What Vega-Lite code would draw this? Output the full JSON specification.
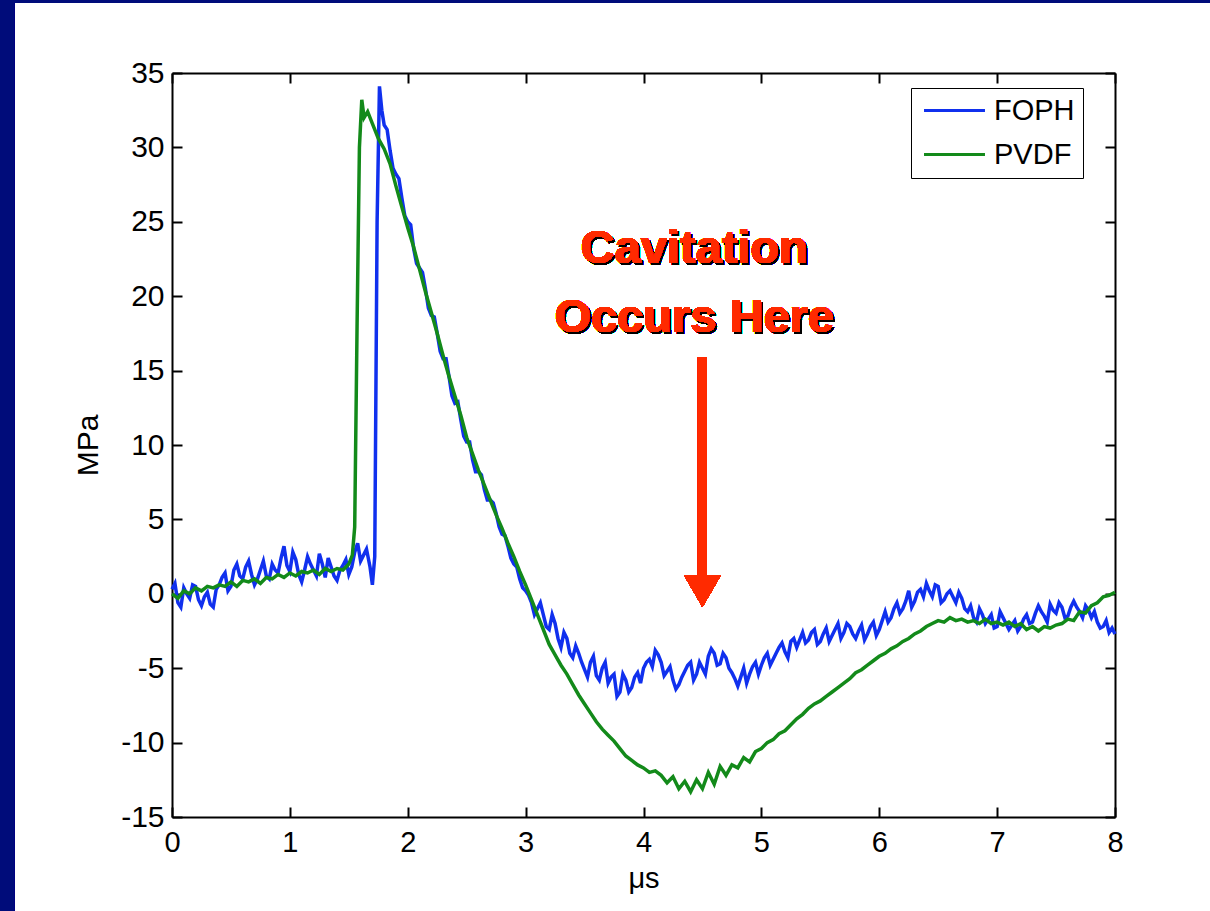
{
  "$schema": "https://vega.github.io/schema/vega-lite/v6.json",
  "width": 943,
  "height": 744,
  "autosize": {"type": "none"},
  "padding": {"left": 172, "top": 73, "right": 95, "bottom": 94},
  "background": "#ffffff",
  "config": {
    "view": {"stroke": null},
    "font": "Liberation Sans",
    "axis": {"zindex": 1}
  },
  "data": {"values": [
    {"s":"FOPH","t":0.00,"v":0.3},{"s":"FOPH","t":0.05,"v":-0.6},{"s":"FOPH","t":0.10,"v":0.4},{"s":"FOPH","t":0.15,"v":-0.3},{"s":"FOPH","t":0.20,"v":0.5},{"s":"FOPH","t":0.25,"v":-0.8},{"s":"FOPH","t":0.30,"v":0.1},{"s":"FOPH","t":0.35,"v":-0.9},{"s":"FOPH","t":0.40,"v":0.6},{"s":"FOPH","t":0.45,"v":1.4},{"s":"FOPH","t":0.50,"v":0.5},{"s":"FOPH","t":0.55,"v":2.0},{"s":"FOPH","t":0.60,"v":1.0},{"s":"FOPH","t":0.65,"v":2.2},{"s":"FOPH","t":0.70,"v":0.6},{"s":"FOPH","t":0.75,"v":1.6},{"s":"FOPH","t":0.80,"v":1.2},{"s":"FOPH","t":0.85,"v":2.0},{"s":"FOPH","t":0.90,"v":1.4},{"s":"FOPH","t":0.95,"v":3.2},{"s":"FOPH","t":1.00,"v":1.5},{"s":"FOPH","t":1.05,"v":2.3},{"s":"FOPH","t":1.10,"v":0.8},{"s":"FOPH","t":1.15,"v":2.5},{"s":"FOPH","t":1.20,"v":1.6},{"s":"FOPH","t":1.25,"v":2.7},{"s":"FOPH","t":1.30,"v":1.1},{"s":"FOPH","t":1.35,"v":1.8},{"s":"FOPH","t":1.40,"v":0.9},{"s":"FOPH","t":1.45,"v":1.9},{"s":"FOPH","t":1.50,"v":1.3},{"s":"FOPH","t":1.55,"v":2.8},{"s":"FOPH","t":1.60,"v":2.2},{"s":"FOPH","t":1.65,"v":3.0},{"s":"FOPH","t":1.68,"v":1.8},{"s":"FOPH","t":1.70,"v":0.6},{"s":"FOPH","t":1.72,"v":2.5},{"s":"FOPH","t":1.74,"v":25.0},{"s":"FOPH","t":1.76,"v":34.1},{"s":"FOPH","t":1.78,"v":32.5},{"s":"FOPH","t":1.80,"v":31.5},{"s":"FOPH","t":1.85,"v":29.8},{"s":"FOPH","t":1.90,"v":28.2},{"s":"FOPH","t":1.95,"v":26.6},{"s":"FOPH","t":2.00,"v":25.0},{"s":"FOPH","t":2.05,"v":23.2},{"s":"FOPH","t":2.10,"v":21.9},{"s":"FOPH","t":2.15,"v":20.5},{"s":"FOPH","t":2.20,"v":18.7},{"s":"FOPH","t":2.25,"v":17.5},{"s":"FOPH","t":2.30,"v":15.8},{"s":"FOPH","t":2.35,"v":14.6},{"s":"FOPH","t":2.40,"v":12.8},{"s":"FOPH","t":2.45,"v":11.7},{"s":"FOPH","t":2.50,"v":10.2},{"s":"FOPH","t":2.55,"v":9.0},{"s":"FOPH","t":2.60,"v":8.2},{"s":"FOPH","t":2.65,"v":7.0},{"s":"FOPH","t":2.70,"v":6.3},{"s":"FOPH","t":2.75,"v":5.4},{"s":"FOPH","t":2.80,"v":4.0},{"s":"FOPH","t":2.85,"v":3.2},{"s":"FOPH","t":2.90,"v":2.0},{"s":"FOPH","t":2.95,"v":1.0},{"s":"FOPH","t":3.00,"v":0.2},{"s":"FOPH","t":3.05,"v":-0.6},{"s":"FOPH","t":3.10,"v":-1.0},{"s":"FOPH","t":3.15,"v":-1.4},{"s":"FOPH","t":3.20,"v":-2.4},{"s":"FOPH","t":3.25,"v":-2.0},{"s":"FOPH","t":3.30,"v":-3.6},{"s":"FOPH","t":3.35,"v":-3.0},{"s":"FOPH","t":3.40,"v":-4.3},{"s":"FOPH","t":3.45,"v":-4.0},{"s":"FOPH","t":3.50,"v":-5.1},{"s":"FOPH","t":3.55,"v":-4.6},{"s":"FOPH","t":3.60,"v":-5.5},{"s":"FOPH","t":3.65,"v":-5.0},{"s":"FOPH","t":3.70,"v":-6.0},{"s":"FOPH","t":3.75,"v":-5.4},{"s":"FOPH","t":3.80,"v":-6.6},{"s":"FOPH","t":3.85,"v":-5.8},{"s":"FOPH","t":3.90,"v":-6.3},{"s":"FOPH","t":3.95,"v":-5.3},{"s":"FOPH","t":4.00,"v":-5.0},{"s":"FOPH","t":4.05,"v":-4.4},{"s":"FOPH","t":4.10,"v":-3.8},{"s":"FOPH","t":4.15,"v":-4.6},{"s":"FOPH","t":4.20,"v":-5.2},{"s":"FOPH","t":4.25,"v":-5.8},{"s":"FOPH","t":4.30,"v":-6.1},{"s":"FOPH","t":4.35,"v":-5.2},{"s":"FOPH","t":4.40,"v":-4.6},{"s":"FOPH","t":4.45,"v":-5.4},{"s":"FOPH","t":4.50,"v":-5.0},{"s":"FOPH","t":4.55,"v":-4.2},{"s":"FOPH","t":4.60,"v":-4.0},{"s":"FOPH","t":4.65,"v":-4.7},{"s":"FOPH","t":4.70,"v":-4.3},{"s":"FOPH","t":4.75,"v":-5.3},{"s":"FOPH","t":4.80,"v":-6.2},{"s":"FOPH","t":4.85,"v":-5.0},{"s":"FOPH","t":4.90,"v":-5.4},{"s":"FOPH","t":4.95,"v":-4.6},{"s":"FOPH","t":5.00,"v":-4.8},{"s":"FOPH","t":5.05,"v":-4.0},{"s":"FOPH","t":5.10,"v":-4.4},{"s":"FOPH","t":5.15,"v":-3.6},{"s":"FOPH","t":5.20,"v":-3.9},{"s":"FOPH","t":5.25,"v":-3.2},{"s":"FOPH","t":5.30,"v":-3.6},{"s":"FOPH","t":5.35,"v":-2.6},{"s":"FOPH","t":5.40,"v":-3.1},{"s":"FOPH","t":5.45,"v":-2.4},{"s":"FOPH","t":5.50,"v":-3.2},{"s":"FOPH","t":5.55,"v":-2.3},{"s":"FOPH","t":5.60,"v":-2.8},{"s":"FOPH","t":5.65,"v":-2.0},{"s":"FOPH","t":5.70,"v":-2.6},{"s":"FOPH","t":5.75,"v":-2.2},{"s":"FOPH","t":5.80,"v":-3.0},{"s":"FOPH","t":5.85,"v":-2.1},{"s":"FOPH","t":5.90,"v":-2.7},{"s":"FOPH","t":5.95,"v":-1.9},{"s":"FOPH","t":6.00,"v":-2.4},{"s":"FOPH","t":6.05,"v":-1.2},{"s":"FOPH","t":6.10,"v":-1.6},{"s":"FOPH","t":6.15,"v":-0.6},{"s":"FOPH","t":6.20,"v":-1.0},{"s":"FOPH","t":6.25,"v":0.2},{"s":"FOPH","t":6.30,"v":-0.5},{"s":"FOPH","t":6.35,"v":0.3},{"s":"FOPH","t":6.40,"v":0.7},{"s":"FOPH","t":6.45,"v":-0.2},{"s":"FOPH","t":6.50,"v":0.5},{"s":"FOPH","t":6.55,"v":-0.4},{"s":"FOPH","t":6.60,"v":0.2},{"s":"FOPH","t":6.65,"v":-0.6},{"s":"FOPH","t":6.70,"v":-0.3},{"s":"FOPH","t":6.75,"v":-1.2},{"s":"FOPH","t":6.80,"v":-1.6},{"s":"FOPH","t":6.85,"v":-1.0},{"s":"FOPH","t":6.90,"v":-2.0},{"s":"FOPH","t":6.95,"v":-1.4},{"s":"FOPH","t":7.00,"v":-2.2},{"s":"FOPH","t":7.05,"v":-1.6},{"s":"FOPH","t":7.10,"v":-2.4},{"s":"FOPH","t":7.15,"v":-1.8},{"s":"FOPH","t":7.20,"v":-2.2},{"s":"FOPH","t":7.25,"v":-1.4},{"s":"FOPH","t":7.30,"v":-1.9},{"s":"FOPH","t":7.35,"v":-0.8},{"s":"FOPH","t":7.40,"v":-1.5},{"s":"FOPH","t":7.45,"v":-0.7},{"s":"FOPH","t":7.50,"v":-1.3},{"s":"FOPH","t":7.55,"v":-0.9},{"s":"FOPH","t":7.60,"v":-1.5},{"s":"FOPH","t":7.65,"v":-0.5},{"s":"FOPH","t":7.70,"v":-1.2},{"s":"FOPH","t":7.75,"v":-0.8},{"s":"FOPH","t":7.80,"v":-1.6},{"s":"FOPH","t":7.85,"v":-1.9},{"s":"FOPH","t":7.90,"v":-2.2},{"s":"FOPH","t":7.95,"v":-2.6},{"s":"FOPH","t":8.00,"v":-2.7},
    {"s":"FOPH","t":0.025,"v":0.7},{"s":"FOPH","t":0.075,"v":-0.9},{"s":"FOPH","t":0.125,"v":0.0},{"s":"FOPH","t":0.175,"v":0.6},{"s":"FOPH","t":0.225,"v":-0.4},{"s":"FOPH","t":0.275,"v":-0.2},{"s":"FOPH","t":0.325,"v":-0.7},{"s":"FOPH","t":0.375,"v":0.3},{"s":"FOPH","t":0.425,"v":1.1},{"s":"FOPH","t":0.475,"v":0.2},{"s":"FOPH","t":0.525,"v":1.6},{"s":"FOPH","t":0.575,"v":1.2},{"s":"FOPH","t":0.625,"v":1.8},{"s":"FOPH","t":0.675,"v":1.3},{"s":"FOPH","t":0.725,"v":1.0},{"s":"FOPH","t":0.775,"v":2.2},{"s":"FOPH","t":0.825,"v":1.0},{"s":"FOPH","t":0.875,"v":1.6},{"s":"FOPH","t":0.925,"v":2.4},{"s":"FOPH","t":0.975,"v":1.9},{"s":"FOPH","t":1.025,"v":2.8},{"s":"FOPH","t":1.075,"v":1.3},{"s":"FOPH","t":1.125,"v":1.6},{"s":"FOPH","t":1.175,"v":2.0},{"s":"FOPH","t":1.225,"v":1.2},{"s":"FOPH","t":1.275,"v":2.0},{"s":"FOPH","t":1.325,"v":2.4},{"s":"FOPH","t":1.375,"v":1.2},{"s":"FOPH","t":1.425,"v":1.6},{"s":"FOPH","t":1.475,"v":2.3},{"s":"FOPH","t":1.525,"v":1.8},{"s":"FOPH","t":1.575,"v":3.4},{"s":"FOPH","t":1.625,"v":2.6},
    {"s":"FOPH","t":1.825,"v":31.2},{"s":"FOPH","t":1.875,"v":28.6},{"s":"FOPH","t":1.925,"v":27.9},{"s":"FOPH","t":1.975,"v":25.4},{"s":"FOPH","t":2.025,"v":24.8},{"s":"FOPH","t":2.075,"v":22.2},{"s":"FOPH","t":2.125,"v":21.6},{"s":"FOPH","t":2.175,"v":19.2},{"s":"FOPH","t":2.225,"v":18.6},{"s":"FOPH","t":2.275,"v":16.3},{"s":"FOPH","t":2.325,"v":15.8},{"s":"FOPH","t":2.375,"v":13.3},{"s":"FOPH","t":2.425,"v":12.9},{"s":"FOPH","t":2.475,"v":10.6},{"s":"FOPH","t":2.525,"v":10.2},{"s":"FOPH","t":2.575,"v":8.2},{"s":"FOPH","t":2.625,"v":8.0},{"s":"FOPH","t":2.675,"v":6.3},{"s":"FOPH","t":2.725,"v":6.1},{"s":"FOPH","t":2.775,"v":4.5},{"s":"FOPH","t":2.825,"v":3.9},{"s":"FOPH","t":2.875,"v":2.4},{"s":"FOPH","t":2.925,"v":1.8},{"s":"FOPH","t":2.975,"v":0.4},
    {"s":"FOPH","t":3.025,"v":-0.1},{"s":"FOPH","t":3.075,"v":-1.4},{"s":"FOPH","t":3.125,"v":-0.6},{"s":"FOPH","t":3.175,"v":-2.2},{"s":"FOPH","t":3.225,"v":-1.4},{"s":"FOPH","t":3.275,"v":-3.0},{"s":"FOPH","t":3.325,"v":-2.6},{"s":"FOPH","t":3.375,"v":-4.0},{"s":"FOPH","t":3.425,"v":-3.5},{"s":"FOPH","t":3.475,"v":-4.6},{"s":"FOPH","t":3.525,"v":-5.6},{"s":"FOPH","t":3.575,"v":-4.2},{"s":"FOPH","t":3.625,"v":-5.8},{"s":"FOPH","t":3.675,"v":-4.6},{"s":"FOPH","t":3.725,"v":-5.6},{"s":"FOPH","t":3.775,"v":-6.9},{"s":"FOPH","t":3.825,"v":-5.4},{"s":"FOPH","t":3.875,"v":-6.6},{"s":"FOPH","t":3.925,"v":-5.6},{"s":"FOPH","t":3.975,"v":-6.0},{"s":"FOPH","t":4.025,"v":-4.6},{"s":"FOPH","t":4.075,"v":-4.9},{"s":"FOPH","t":4.125,"v":-4.1},{"s":"FOPH","t":4.175,"v":-5.5},{"s":"FOPH","t":4.225,"v":-4.9},{"s":"FOPH","t":4.275,"v":-6.4},{"s":"FOPH","t":4.325,"v":-5.6},{"s":"FOPH","t":4.375,"v":-4.8},{"s":"FOPH","t":4.425,"v":-5.8},{"s":"FOPH","t":4.475,"v":-4.6},{"s":"FOPH","t":4.525,"v":-5.4},{"s":"FOPH","t":4.575,"v":-3.7},{"s":"FOPH","t":4.625,"v":-4.8},{"s":"FOPH","t":4.675,"v":-4.0},{"s":"FOPH","t":4.725,"v":-5.0},{"s":"FOPH","t":4.775,"v":-5.7},{"s":"FOPH","t":4.825,"v":-5.6},{"s":"FOPH","t":4.875,"v":-6.0},{"s":"FOPH","t":4.925,"v":-4.9},{"s":"FOPH","t":4.975,"v":-5.4},{"s":"FOPH","t":5.025,"v":-4.3},{"s":"FOPH","t":5.075,"v":-4.8},{"s":"FOPH","t":5.125,"v":-4.0},{"s":"FOPH","t":5.175,"v":-3.3},{"s":"FOPH","t":5.225,"v":-4.3},{"s":"FOPH","t":5.275,"v":-3.0},{"s":"FOPH","t":5.325,"v":-3.1},{"s":"FOPH","t":5.375,"v":-3.3},{"s":"FOPH","t":5.425,"v":-2.6},{"s":"FOPH","t":5.475,"v":-3.4},{"s":"FOPH","t":5.525,"v":-2.7},{"s":"FOPH","t":5.575,"v":-3.2},{"s":"FOPH","t":5.625,"v":-2.4},{"s":"FOPH","t":5.675,"v":-3.0},{"s":"FOPH","t":5.725,"v":-2.0},{"s":"FOPH","t":5.775,"v":-2.7},{"s":"FOPH","t":5.825,"v":-2.5},{"s":"FOPH","t":5.875,"v":-3.1},{"s":"FOPH","t":5.925,"v":-2.2},{"s":"FOPH","t":5.975,"v":-2.8},{"s":"FOPH","t":6.025,"v":-1.8},{"s":"FOPH","t":6.075,"v":-1.9},{"s":"FOPH","t":6.125,"v":-1.0},{"s":"FOPH","t":6.175,"v":-1.3},{"s":"FOPH","t":6.225,"v":-0.5},{"s":"FOPH","t":6.275,"v":-0.9},{"s":"FOPH","t":6.325,"v":0.1},{"s":"FOPH","t":6.375,"v":-0.2},{"s":"FOPH","t":6.425,"v":0.2},{"s":"FOPH","t":6.475,"v":0.6},{"s":"FOPH","t":6.525,"v":-0.6},{"s":"FOPH","t":6.575,"v":0.0},{"s":"FOPH","t":6.625,"v":-0.2},{"s":"FOPH","t":6.675,"v":0.1},{"s":"FOPH","t":6.725,"v":-1.0},{"s":"FOPH","t":6.775,"v":-0.8},{"s":"FOPH","t":6.825,"v":-1.9},{"s":"FOPH","t":6.875,"v":-1.4},{"s":"FOPH","t":6.925,"v":-1.7},{"s":"FOPH","t":6.975,"v":-2.3},{"s":"FOPH","t":7.025,"v":-1.2},{"s":"FOPH","t":7.075,"v":-2.0},{"s":"FOPH","t":7.125,"v":-2.1},{"s":"FOPH","t":7.175,"v":-2.5},{"s":"FOPH","t":7.225,"v":-1.7},{"s":"FOPH","t":7.275,"v":-2.0},{"s":"FOPH","t":7.325,"v":-1.3},{"s":"FOPH","t":7.375,"v":-1.2},{"s":"FOPH","t":7.425,"v":-1.9},{"s":"FOPH","t":7.475,"v":-1.1},{"s":"FOPH","t":7.525,"v":-0.6},{"s":"FOPH","t":7.575,"v":-1.6},{"s":"FOPH","t":7.625,"v":-0.9},{"s":"FOPH","t":7.675,"v":-0.9},{"s":"FOPH","t":7.725,"v":-1.6},{"s":"FOPH","t":7.775,"v":-1.1},{"s":"FOPH","t":7.825,"v":-1.2},{"s":"FOPH","t":7.875,"v":-2.3},{"s":"FOPH","t":7.925,"v":-1.8},{"s":"FOPH","t":7.975,"v":-2.3},
    {"s":"PVDF","t":0.00,"v":0.0},{"s":"PVDF","t":0.05,"v":-0.3},{"s":"PVDF","t":0.10,"v":0.2},{"s":"PVDF","t":0.15,"v":0.0},{"s":"PVDF","t":0.20,"v":0.4},{"s":"PVDF","t":0.25,"v":0.2},{"s":"PVDF","t":0.30,"v":0.5},{"s":"PVDF","t":0.35,"v":0.4},{"s":"PVDF","t":0.40,"v":0.6},{"s":"PVDF","t":0.45,"v":0.5},{"s":"PVDF","t":0.50,"v":0.8},{"s":"PVDF","t":0.55,"v":0.5},{"s":"PVDF","t":0.60,"v":0.9},{"s":"PVDF","t":0.65,"v":0.8},{"s":"PVDF","t":0.70,"v":1.0},{"s":"PVDF","t":0.75,"v":0.7},{"s":"PVDF","t":0.80,"v":1.1},{"s":"PVDF","t":0.85,"v":1.0},{"s":"PVDF","t":0.90,"v":1.3},{"s":"PVDF","t":0.95,"v":1.1},{"s":"PVDF","t":1.00,"v":1.4},{"s":"PVDF","t":1.05,"v":1.2},{"s":"PVDF","t":1.10,"v":1.5},{"s":"PVDF","t":1.15,"v":1.4},{"s":"PVDF","t":1.20,"v":1.6},{"s":"PVDF","t":1.25,"v":1.3},{"s":"PVDF","t":1.30,"v":1.7},{"s":"PVDF","t":1.35,"v":1.5},{"s":"PVDF","t":1.40,"v":1.7},{"s":"PVDF","t":1.45,"v":1.6},{"s":"PVDF","t":1.50,"v":2.0},{"s":"PVDF","t":1.53,"v":2.6},{"s":"PVDF","t":1.55,"v":4.5},{"s":"PVDF","t":1.57,"v":18.0},{"s":"PVDF","t":1.59,"v":30.0},{"s":"PVDF","t":1.61,"v":33.2},{"s":"PVDF","t":1.63,"v":32.0},{"s":"PVDF","t":1.66,"v":32.4},{"s":"PVDF","t":1.70,"v":31.6},{"s":"PVDF","t":1.75,"v":30.6},{"s":"PVDF","t":1.80,"v":29.9},{"s":"PVDF","t":1.85,"v":28.9},{"s":"PVDF","t":1.90,"v":27.4},{"s":"PVDF","t":1.95,"v":26.0},{"s":"PVDF","t":2.00,"v":24.6},{"s":"PVDF","t":2.05,"v":23.3},{"s":"PVDF","t":2.10,"v":21.8},{"s":"PVDF","t":2.15,"v":20.3},{"s":"PVDF","t":2.20,"v":18.9},{"s":"PVDF","t":2.25,"v":17.5},{"s":"PVDF","t":2.30,"v":16.0},{"s":"PVDF","t":2.35,"v":14.6},{"s":"PVDF","t":2.40,"v":13.3},{"s":"PVDF","t":2.45,"v":12.0},{"s":"PVDF","t":2.50,"v":10.5},{"s":"PVDF","t":2.55,"v":9.4},{"s":"PVDF","t":2.60,"v":8.3},{"s":"PVDF","t":2.65,"v":7.3},{"s":"PVDF","t":2.70,"v":6.3},{"s":"PVDF","t":2.75,"v":5.3},{"s":"PVDF","t":2.80,"v":4.4},{"s":"PVDF","t":2.85,"v":3.4},{"s":"PVDF","t":2.90,"v":2.5},{"s":"PVDF","t":2.95,"v":1.5},{"s":"PVDF","t":3.00,"v":0.6},{"s":"PVDF","t":3.05,"v":-0.4},{"s":"PVDF","t":3.10,"v":-1.4},{"s":"PVDF","t":3.15,"v":-2.4},{"s":"PVDF","t":3.20,"v":-3.4},{"s":"PVDF","t":3.25,"v":-4.1},{"s":"PVDF","t":3.30,"v":-4.8},{"s":"PVDF","t":3.35,"v":-5.4},{"s":"PVDF","t":3.40,"v":-6.1},{"s":"PVDF","t":3.45,"v":-6.8},{"s":"PVDF","t":3.50,"v":-7.4},{"s":"PVDF","t":3.55,"v":-8.0},{"s":"PVDF","t":3.60,"v":-8.6},{"s":"PVDF","t":3.65,"v":-9.1},{"s":"PVDF","t":3.70,"v":-9.5},{"s":"PVDF","t":3.75,"v":-9.9},{"s":"PVDF","t":3.80,"v":-10.4},{"s":"PVDF","t":3.85,"v":-10.9},{"s":"PVDF","t":3.90,"v":-11.2},{"s":"PVDF","t":3.95,"v":-11.5},{"s":"PVDF","t":4.00,"v":-11.7},{"s":"PVDF","t":4.05,"v":-12.0},{"s":"PVDF","t":4.10,"v":-11.9},{"s":"PVDF","t":4.15,"v":-12.2},{"s":"PVDF","t":4.20,"v":-12.7},{"s":"PVDF","t":4.25,"v":-12.3},{"s":"PVDF","t":4.30,"v":-13.1},{"s":"PVDF","t":4.35,"v":-12.6},{"s":"PVDF","t":4.40,"v":-13.3},{"s":"PVDF","t":4.45,"v":-12.5},{"s":"PVDF","t":4.50,"v":-13.1},{"s":"PVDF","t":4.55,"v":-12.0},{"s":"PVDF","t":4.60,"v":-12.8},{"s":"PVDF","t":4.65,"v":-11.6},{"s":"PVDF","t":4.70,"v":-12.2},{"s":"PVDF","t":4.75,"v":-11.5},{"s":"PVDF","t":4.80,"v":-11.7},{"s":"PVDF","t":4.85,"v":-11.0},{"s":"PVDF","t":4.90,"v":-11.3},{"s":"PVDF","t":4.95,"v":-10.6},{"s":"PVDF","t":5.00,"v":-10.4},{"s":"PVDF","t":5.05,"v":-10.0},{"s":"PVDF","t":5.10,"v":-9.8},{"s":"PVDF","t":5.15,"v":-9.4},{"s":"PVDF","t":5.20,"v":-9.2},{"s":"PVDF","t":5.25,"v":-8.8},{"s":"PVDF","t":5.30,"v":-8.4},{"s":"PVDF","t":5.35,"v":-8.1},{"s":"PVDF","t":5.40,"v":-7.7},{"s":"PVDF","t":5.45,"v":-7.4},{"s":"PVDF","t":5.50,"v":-7.2},{"s":"PVDF","t":5.55,"v":-6.9},{"s":"PVDF","t":5.60,"v":-6.6},{"s":"PVDF","t":5.65,"v":-6.3},{"s":"PVDF","t":5.70,"v":-6.0},{"s":"PVDF","t":5.75,"v":-5.7},{"s":"PVDF","t":5.80,"v":-5.3},{"s":"PVDF","t":5.85,"v":-5.1},{"s":"PVDF","t":5.90,"v":-4.8},{"s":"PVDF","t":5.95,"v":-4.5},{"s":"PVDF","t":6.00,"v":-4.2},{"s":"PVDF","t":6.05,"v":-4.0},{"s":"PVDF","t":6.10,"v":-3.7},{"s":"PVDF","t":6.15,"v":-3.5},{"s":"PVDF","t":6.20,"v":-3.2},{"s":"PVDF","t":6.25,"v":-3.0},{"s":"PVDF","t":6.30,"v":-2.7},{"s":"PVDF","t":6.35,"v":-2.5},{"s":"PVDF","t":6.40,"v":-2.2},{"s":"PVDF","t":6.45,"v":-2.0},{"s":"PVDF","t":6.50,"v":-1.8},{"s":"PVDF","t":6.55,"v":-1.9},{"s":"PVDF","t":6.60,"v":-1.6},{"s":"PVDF","t":6.65,"v":-1.8},{"s":"PVDF","t":6.70,"v":-1.7},{"s":"PVDF","t":6.75,"v":-1.9},{"s":"PVDF","t":6.80,"v":-1.8},{"s":"PVDF","t":6.85,"v":-2.0},{"s":"PVDF","t":6.90,"v":-1.7},{"s":"PVDF","t":6.95,"v":-2.0},{"s":"PVDF","t":7.00,"v":-1.9},{"s":"PVDF","t":7.05,"v":-2.1},{"s":"PVDF","t":7.10,"v":-1.9},{"s":"PVDF","t":7.15,"v":-2.2},{"s":"PVDF","t":7.20,"v":-2.0},{"s":"PVDF","t":7.25,"v":-2.4},{"s":"PVDF","t":7.30,"v":-2.2},{"s":"PVDF","t":7.35,"v":-2.5},{"s":"PVDF","t":7.40,"v":-2.2},{"s":"PVDF","t":7.45,"v":-2.3},{"s":"PVDF","t":7.50,"v":-2.1},{"s":"PVDF","t":7.55,"v":-2.0},{"s":"PVDF","t":7.60,"v":-1.7},{"s":"PVDF","t":7.65,"v":-1.8},{"s":"PVDF","t":7.70,"v":-1.2},{"s":"PVDF","t":7.75,"v":-1.3},{"s":"PVDF","t":7.80,"v":-0.8},{"s":"PVDF","t":7.85,"v":-0.6},{"s":"PVDF","t":7.90,"v":-0.2},{"s":"PVDF","t":7.95,"v":-0.1},{"s":"PVDF","t":8.00,"v":0.1}
  ]},
  "resolve": {"axis": {"x": "independent", "y": "independent"}},
  "layer": [
    {
      "mark": {"type": "rect", "color": "#000c7a"},
      "encoding": {
        "x": {"datum": -1.7, "type": "quantitative", "scale": {"domain": [0, 8], "nice": false}, "axis": null},
        "x2": {"datum": -1.34},
        "y": {"datum": -30, "type": "quantitative", "scale": {"domain": [-15, 35], "nice": false}, "axis": null},
        "y2": {"datum": 45}
      }
    },
    {
      "mark": {"type": "rect", "color": "#000c7a"},
      "encoding": {
        "x": {"datum": -1.7, "type": "quantitative", "axis": null},
        "x2": {"datum": 9},
        "y": {"datum": 39.7, "type": "quantitative", "axis": null},
        "y2": {"datum": 45}
      }
    },
    {
      "mark": {"type": "line", "strokeWidth": 3.5, "interpolate": "linear"},
      "encoding": {
        "x": {"field": "t", "type": "quantitative", "scale": {"domain": [0, 8], "nice": false},
          "axis": {"orient": "bottom", "title": "μs", "values": [0,1,2,3,4,5,6,7,8], "tickSize": -10, "tickWidth": 2, "tickColor": "black", "domainColor": "black", "domainWidth": 2, "labelPadding": 21, "labelFontSize": 29, "labelColor": "black", "labelFont": "Liberation Sans Narrow, Liberation Sans", "titleFontSize": 29, "titleFontWeight": "normal", "titleColor": "black", "titlePadding": 7, "grid": false, "labelFlush": false, "labelExpr": "'' + datum.value"}},
        "y": {"field": "v", "type": "quantitative", "scale": {"domain": [-15, 35], "nice": false},
          "axis": {"orient": "left", "title": "MPa", "values": [-15,-10,-5,0,5,10,15,20,25,30,35], "tickSize": -10, "tickWidth": 2, "tickColor": "black", "domainColor": "black", "domainWidth": 2, "labelPadding": 18, "labelFontSize": 30, "labelColor": "black", "titleFontSize": 30, "titleFontWeight": "normal", "titleColor": "black", "titlePadding": 17, "grid": false, "labelFlush": false, "labelExpr": "'' + datum.value"}},
        "color": {"field": "s", "type": "nominal", "title": null,
          "scale": {"domain": ["FOPH", "PVDF"], "range": ["#1030ee", "#138a1a"]},
          "legend": {"orient": "none", "legendX": 739, "legendY": 15, "direction": "vertical", "strokeColor": "black", "fillColor": "white", "padding": 8, "symbolType": "M-3,0L3,0", "symbolSize": 413, "symbolOffset": 21, "symbolStrokeWidth": 3, "labelFontSize": 29, "labelColor": "black", "labelOffset": 25, "rowPadding": 14}}
      }
    },
    {
      "mark": {"type": "rule", "color": "#ff2a00", "strokeWidth": 9},
      "encoding": {
        "x": {"datum": 4.5, "type": "quantitative",
          "axis": {"orient": "top", "title": null, "labels": false, "values": [0,1,2,3,4,5,6,7,8], "tickSize": -10, "tickWidth": 2, "tickColor": "black", "domainColor": "black", "domainWidth": 2, "grid": false}},
        "y": {"datum": 15.9, "type": "quantitative",
          "axis": {"orient": "right", "title": null, "labels": false, "values": [-15,-10,-5,0,5,10,15,20,25,30,35], "tickSize": -10, "tickWidth": 2, "tickColor": "black", "domainColor": "black", "domainWidth": 2, "grid": false}},
        "y2": {"datum": 0.9}
      }
    },
    {
      "mark": {"type": "point", "shape": "triangle-down", "size": 1369, "filled": true, "color": "#ff2a00", "opacity": 1, "strokeWidth": 0},
      "encoding": {
        "x": {"datum": 4.5, "type": "quantitative", "axis": null},
        "y": {"datum": 0.19, "type": "quantitative", "axis": null}
      }
    },
    {
      "mark": {"type": "text", "text": "Cavitation", "font": "Liberation Sans", "fontWeight": "bold", "fontSize": 47, "color": "#000000", "align": "center", "baseline": "alphabetic", "dx": 2, "dy": 2},
      "encoding": {"x": {"datum": 4.43, "type": "quantitative", "axis": null}, "y": {"datum": 22.23, "type": "quantitative", "axis": null}}
    },
    {
      "mark": {"type": "text", "text": "Occurs Here", "font": "Liberation Sans", "fontWeight": "bold", "fontSize": 47, "color": "#000000", "align": "center", "baseline": "alphabetic", "dx": 2, "dy": 2},
      "encoding": {"x": {"datum": 4.43, "type": "quantitative", "axis": null}, "y": {"datum": 17.6, "type": "quantitative", "axis": null}}
    },
    {
      "mark": {"type": "text", "text": "Cavitation", "font": "Liberation Sans", "fontWeight": "bold", "fontSize": 47, "color": "#ff2a00", "align": "center", "baseline": "alphabetic"},
      "encoding": {"x": {"datum": 4.43, "type": "quantitative", "axis": null}, "y": {"datum": 22.23, "type": "quantitative", "axis": null}}
    },
    {
      "mark": {"type": "text", "text": "Occurs Here", "font": "Liberation Sans", "fontWeight": "bold", "fontSize": 47, "color": "#ff2a00", "align": "center", "baseline": "alphabetic"},
      "encoding": {"x": {"datum": 4.43, "type": "quantitative", "axis": null}, "y": {"datum": 17.6, "type": "quantitative", "axis": null}}
    }
  ]
}
